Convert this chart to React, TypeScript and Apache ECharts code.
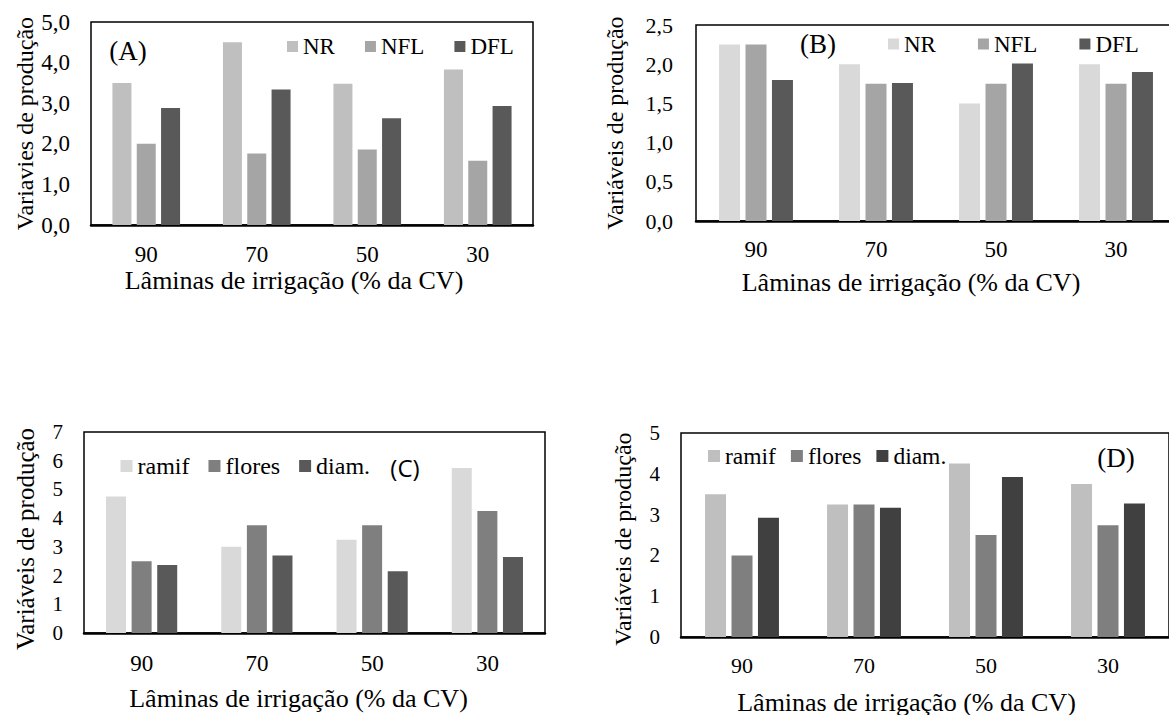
import React, { useEffect, useRef } from 'react';
import * as echarts from 'echarts';

// ---- Data ----
const categories = ['90', '70', '50', '30'];

const namesAB = ['NR', 'NFL', 'DFL'];
const namesCD = ['ramif', 'flores', 'diam.'];

const aNR = [3.5, 4.5, 3.48, 3.83];
const aNFL = [2.0, 1.76, 1.86, 1.58];
const aDFL = [2.88, 3.34, 2.63, 2.93];

const bNR = [2.25, 2.0, 1.5, 2.0];
const bNFL = [2.25, 1.75, 1.75, 1.75];
const bDFL = [1.8, 1.76, 2.01, 1.9];

const cRamif = [4.75, 3.0, 3.25, 5.75];
const cFlores = [2.5, 3.75, 3.75, 4.25];
const cDiam = [2.37, 2.7, 2.15, 2.65];

const dRamif = [3.5, 3.25, 4.25, 3.75];
const dFlores = [2.0, 3.25, 2.5, 2.74];
const dDiam = [2.92, 3.17, 3.92, 3.27];

const xTitle = 'Lâminas de irrigação (% da CV)';
const yTitleA = 'Variavies de produção';
const yTitle = 'Variáveis de produção';

const SERIF = 'Liberation Serif';
const SANS = 'Open Sans';

const panels = [
  {
    key: 'A', grid: { left: 91, top: 22, width: 442, height: 203 },
    yMax: 5, yInterval: 1, decimals: 1,
    names: namesAB, data: [aNR, aNFL, aDFL], colors: ['#bfbfbf', '#a5a5a5', '#595959'],
    barWidth: 19, barGap: '28%',
    yTickFont: 23, yLabelMargin: 21, xTickFont: 23, xLabelMargin: 18,
    xNameGap: 42, xNameShift: 36, xNameFont: 26,
    yName: yTitleA, yNameGap: 52, yNameFont: 24, yNamePad: 0,
    legend: { left: 287, top: 35, size: 11, gap: 30, font: 23 },
    tag: { text: '(A)', x: 128, y: 51, family: SERIF, size: 27 },
  },
  {
    key: 'B', grid: { left: 696, top: 25, width: 480, height: 196 },
    yMax: 2.5, yInterval: 0.5, decimals: 1,
    names: namesAB, data: [bNR, bNFL, bDFL], colors: ['#d9d9d9', '#a5a5a5', '#595959'],
    barWidth: 21, barGap: '26%',
    yTickFont: 22, yLabelMargin: 23, xTickFont: 23, xLabelMargin: 17,
    xNameGap: 48, xNameShift: 50, xNameFont: 26,
    yName: yTitle, yNameGap: 69, yNameFont: 24, yNamePad: 0,
    legend: { left: 888, top: 32.5, size: 11, gap: 42, font: 23 },
    tag: { text: '(B)', x: 818, y: 44, family: SERIF, size: 27 },
  },
  {
    key: 'C', grid: { left: 84, top: 432, width: 461, height: 201 },
    yMax: 7, yInterval: 1, decimals: 0,
    names: namesCD, data: [cRamif, cFlores, cDiam], colors: ['#d9d9d9', '#7f7f7f', '#595959'],
    barWidth: 20, barGap: '28%',
    yTickFont: 21, yLabelMargin: 21, xTickFont: 23, xLabelMargin: 18.5,
    xNameGap: 52, xNameShift: 32, xNameFont: 26,
    yName: yTitle, yNameGap: 46.5, yNameFont: 25, yNamePad: 13,
    legend: { left: 120.5, top: 454, size: 12, gap: 19, font: 24 },
    tag: { text: '(C)', x: 405, y: 467, family: SANS, size: 24 },
  },
  {
    key: 'D', grid: { left: 681, top: 433, width: 488, height: 204 },
    yMax: 5, yInterval: 1, decimals: 0,
    names: namesCD, data: [dRamif, dFlores, dDiam], colors: ['#bfbfbf', '#7f7f7f', '#404040'],
    barWidth: 21, barGap: '26%',
    yTickFont: 21, yLabelMargin: 21, xTickFont: 22, xLabelMargin: 17,
    xNameGap: 52, xNameShift: 37, xNameFont: 26,
    yName: yTitle, yNameGap: 46, yNameFont: 24, yNamePad: 8,
    legend: { left: 708, top: 444, size: 12, gap: 15, font: 23.5 },
    tag: { text: '(D)', x: 1116, y: 457.5, family: SERIF, size: 27 },
  },
];

function buildOption() {
  const grid: any[] = [];
  const xAxis: any[] = [];
  const yAxis: any[] = [];
  const series: any[] = [];
  const legend: any[] = [];
  const graphic: any[] = [];

  panels.forEach((p, i) => {
    grid.push({
      ...p.grid,
      show: true,
      borderColor: '#000',
      borderWidth: 1.5,
      backgroundColor: 'transparent',
      containLabel: false,
      outerBoundsMode: 'none',
    });
    xAxis.push({
      type: 'category',
      gridIndex: i,
      data: categories,
      axisLine: { show: true, lineStyle: { color: '#000', width: 2.5 } },
      axisTick: { show: false },
      splitLine: { show: false },
      axisLabel: {
        color: '#000', fontFamily: SERIF, fontSize: p.xTickFont, margin: p.xLabelMargin,
      },
      name: xTitle,
      nameLocation: 'middle',
      nameGap: p.xNameGap,
      nameTextStyle: {
        color: '#000', fontFamily: SERIF, fontSize: p.xNameFont,
        padding: [0, p.xNameShift, 0, 0],
      },
    });
    yAxis.push({
      type: 'value',
      gridIndex: i,
      min: 0,
      max: p.yMax,
      interval: p.yInterval,
      axisLine: { show: false },
      axisTick: { show: false },
      splitLine: { show: false },
      axisLabel: {
        color: '#000', fontFamily: SERIF, fontSize: p.yTickFont, margin: p.yLabelMargin,
        formatter: (v: number) => v.toFixed(p.decimals).replace('.', ','),
      },
      name: p.yName,
      nameLocation: 'middle',
      nameGap: p.yNameGap,
      nameTextStyle: {
        color: '#000', fontFamily: SERIF, fontSize: p.yNameFont,
        padding: [0, p.yNamePad, 0, 0],
      },
    });
    const ids: string[] = [];
    p.names.forEach((n, j) => {
      const id = p.key + '|' + n;
      ids.push(id);
      series.push({
        type: 'bar',
        name: id,
        xAxisIndex: i,
        yAxisIndex: i,
        data: p.data[j],
        barWidth: p.barWidth,
        barGap: p.barGap,
        itemStyle: { color: p.colors[j] },
        emphasis: { disabled: true },
      });
    });
    legend.push({
      data: ids,
      left: p.legend.left,
      top: p.legend.top,
      orient: 'horizontal',
      padding: 0,
      icon: 'rect',
      itemWidth: p.legend.size,
      itemHeight: p.legend.size,
      itemGap: p.legend.gap,
      selectedMode: false,
      formatter: (name: string) => name.split('|')[1],
      textStyle: { color: '#000', fontFamily: SERIF, fontSize: p.legend.font },
    });
    graphic.push({
      type: 'text',
      x: p.tag.x,
      y: p.tag.y,
      style: {
        text: p.tag.text,
        fontFamily: p.tag.family,
        fontSize: p.tag.size,
        fill: '#000',
        align: 'center',
        verticalAlign: 'middle',
        textAlign: 'center',
        textVerticalAlign: 'middle',
      },
    });
  });

  return {
    animation: false,
    backgroundColor: '#fff',
    textStyle: { fontFamily: SERIF },
    grid,
    xAxis,
    yAxis,
    series,
    legend,
    graphic,
  };
}

export default function App() {
  const ref = useRef<HTMLDivElement>(null);
  useEffect(() => {
    if (!ref.current) return;
    const chart = echarts.init(ref.current, undefined, { renderer: 'svg' });
    chart.setOption(buildOption() as any);
    return () => chart.dispose();
  }, []);
  return (
    <div
      ref={ref}
      style={{ position: 'absolute', left: 0, top: 0, width: 1169, height: 715, background: '#fff' }}
    />
  );
}
